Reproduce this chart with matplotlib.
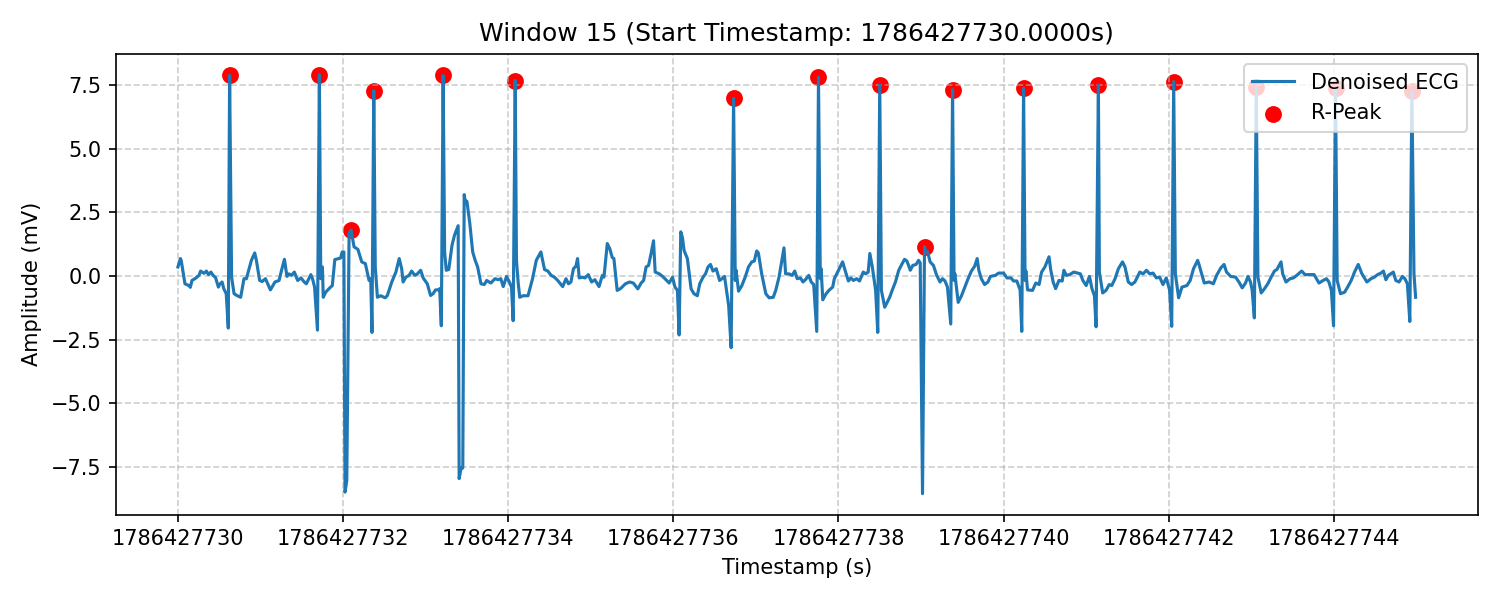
import matplotlib
matplotlib.use("Agg")
import matplotlib.pyplot as plt
import numpy as np

# window info
window_id = 15
start_ts = 1786427730.0

# denoised ECG (seconds from window start, mV)
ecg_t = [
    0.00, 0.03, 0.04, 0.085, 0.133, 0.15, 0.17, 0.21, 0.255, 0.275, 0.315, 0.345, 0.37, 0.40,
    0.425, 0.455, 0.49, 0.505, 0.535, 0.555, 0.585, 0.61, 0.626, 0.65, 0.68, 0.72, 0.76, 0.80,
    0.83, 0.855, 0.89, 0.93, 0.95, 0.99, 1.02, 1.06, 1.12, 1.175, 1.225, 1.255, 1.29, 1.32,
    1.345, 1.375, 1.41, 1.45, 1.49, 1.53, 1.555, 1.61, 1.63, 1.655, 1.69, 1.713, 1.73, 1.75,
    1.76, 1.79, 1.83, 1.87, 1.90, 1.95, 1.97, 1.99, 2.01, 2.024, 2.045, 2.073, 2.097, 2.133,
    2.18, 2.226, 2.27, 2.315, 2.335, 2.35, 2.372, 2.39, 2.416, 2.455, 2.51, 2.535, 2.59, 2.64,
    2.68, 2.71, 2.727, 2.76, 2.80, 2.83, 2.87, 2.90, 2.94, 2.97, 3.02, 3.06, 3.09, 3.12, 3.16,
    3.17, 3.19, 3.212, 3.23, 3.25, 3.28, 3.32, 3.35, 3.394, 3.406, 3.43, 3.45, 3.467, 3.48,
    3.50, 3.535, 3.57, 3.60, 3.63, 3.67, 3.71, 3.74, 3.79, 3.84, 3.88, 3.91, 3.94, 3.98, 4.02,
    4.04, 4.06, 4.085, 4.10, 4.12, 4.14, 4.18, 4.24, 4.295, 4.34, 4.396, 4.44, 4.48, 4.52,
    4.56, 4.60, 4.66, 4.70, 4.73, 4.76, 4.79, 4.82, 4.84, 4.86, 4.90, 4.93, 4.97, 5.01, 5.05,
    5.10, 5.14, 5.16, 5.20, 5.23, 5.26, 5.28, 5.32, 5.36, 5.42, 5.47, 5.515, 5.57, 5.61, 5.64,
    5.67, 5.70, 5.73, 5.76, 5.78, 5.83, 5.87, 5.91, 5.95, 5.99, 6.02, 6.05, 6.07, 6.09, 6.11,
    6.13, 6.17, 6.215, 6.25, 6.29, 6.32, 6.36, 6.39, 6.42, 6.45, 6.48, 6.52, 6.56, 6.59, 6.62,
    6.65, 6.67, 6.70, 6.73, 6.75, 6.76, 6.79, 6.83, 6.87, 6.91, 6.95, 6.98, 7.01, 7.03, 7.07,
    7.12, 7.16, 7.21, 7.24, 7.28, 7.34, 7.36, 7.40, 7.44, 7.47, 7.50, 7.54, 7.57, 7.60, 7.64,
    7.67, 7.70, 7.737, 7.758, 7.78, 7.79, 7.81, 7.85, 7.89, 7.93, 7.95, 7.99, 8.05, 8.08, 8.12,
    8.15, 8.18, 8.22, 8.255, 8.30, 8.33, 8.36, 8.38, 8.41, 8.45, 8.476, 8.50, 8.52, 8.56, 8.59,
    8.62, 8.65, 8.69, 8.73, 8.76, 8.80, 8.83, 8.87, 8.90, 8.94, 8.97, 8.99, 9.018, 9.042, 9.06,
    9.08, 9.11, 9.15, 9.19, 9.23, 9.26, 9.29, 9.32, 9.36, 9.382, 9.40, 9.41, 9.45, 9.49, 9.53,
    9.57, 9.61, 9.65, 9.68, 9.70, 9.73, 9.77, 9.81, 9.84, 9.90, 9.94, 10.00, 10.04, 10.09,
    10.12, 10.16, 10.20, 10.22, 10.242, 10.26, 10.27, 10.29, 10.35, 10.39, 10.43, 10.46, 10.50,
    10.55, 10.57, 10.60, 10.63, 10.67, 10.71, 10.73, 10.76, 10.80, 10.85, 10.93, 10.96, 11.00,
    11.04, 11.07, 11.10, 11.12, 11.148, 11.16, 11.20, 11.24, 11.28, 11.31, 11.35, 11.39, 11.44,
    11.47, 11.51, 11.55, 11.59, 11.65, 11.69, 11.73, 11.77, 11.81, 11.85, 11.89, 11.93, 11.97,
    12.01, 12.036, 12.06, 12.08, 12.12, 12.16, 12.22, 12.26, 12.30, 12.35, 12.37, 12.43, 12.49,
    12.54, 12.58, 12.63, 12.67, 12.70, 12.75, 12.81, 12.85, 12.89, 12.93, 12.96, 12.99, 13.01,
    13.037, 13.06, 13.08, 13.12, 13.16, 13.20, 13.24, 13.28, 13.31, 13.36, 13.38, 13.42, 13.47,
    13.51, 13.55, 13.61, 13.65, 13.71, 13.76, 13.82, 13.87, 13.91, 13.94, 13.97, 13.996, 14.02,
    14.04, 14.08, 14.13, 14.17, 14.21, 14.25, 14.295, 14.34, 14.40, 14.45, 14.49, 14.53, 14.57,
    14.60, 14.63, 14.66, 14.72, 14.75, 14.79, 14.83, 14.86, 14.89, 14.92, 14.945, 14.97, 14.99,
]
ecg_mv = [
    0.35, 0.68, 0.60, -0.31, -0.38, -0.45, -0.18, -0.10, 0.02, 0.19, 0.10, 0.19, 0.05, 0.15,
    0.02, -0.06, -0.44, -0.33, -0.24, -0.50, -0.70, -2.05, 7.87, -0.05, -0.70, -0.78, -0.84, -0.11,
    -0.11, 0.20, 0.61, 0.90, 0.61, -0.18, -0.22, -0.11, -0.55, -0.24, -0.18, 0.22, 0.65, -0.02,
    0.08, 0.02, 0.15, -0.18, -0.08, -0.24, -0.31, 0.05, -0.11, -0.44, -2.13, 7.89, -0.11, 0.35,
    -0.84, -0.64, -0.50, -0.38, 0.64, 0.68, 0.70, 0.94, 0.94, -8.49, -8.03, 1.67, 1.80, 1.14,
    1.04, 0.55, 0.48, -0.18, -0.11, -2.22, 7.27, 0.35, -0.84, -0.78, -0.86, -0.78, -0.24, 0.15,
    0.68, 0.28, -0.24, -0.05, 0.02, 0.19, 0.02, 0.08, 0.22, -0.08, -0.31, -0.77, -0.70, -0.55, -0.55,
    -0.50, -1.96, 7.87, 0.94, 0.22, 0.25, 1.21, 1.60, 1.97, -7.96, -7.54, -7.54, 3.19, 2.93,
    2.93, 2.06, 0.94, 0.61, 0.35, -0.31, -0.34, -0.18, -0.28, -0.11, -0.15, -0.11, -0.42, -0.02, -0.28,
    -0.44, -1.76, 7.67, 0.61, -0.24, -0.84, -0.78, -0.78, -0.11, 0.61, 0.94, 0.25, 0.19, 0.02,
    -0.05, -0.18, -0.42, -0.11, -0.31, -0.24, 0.28, 0.38, 0.68, -0.08, -0.05, -0.08, 0.05, -0.24, -0.15,
    -0.42, 0.02, -0.05, 1.27, 1.07, 0.72, 0.68, -0.57, -0.50, -0.31, -0.24, -0.28, -0.51, -0.28, -0.18,
    0.35, 0.41, 0.87, 1.38, 0.15, 0.08, -0.02, -0.15, -0.28, -0.05, -0.44, -0.57, -2.32, 1.73, 1.51,
    1.00, 0.68, -0.51, -0.70, -0.78, -0.31, -0.05, 0.08, 0.35, 0.45, 0.19, 0.28, -0.18, -0.11, -0.02,
    -0.70, -1.16, -2.82, 6.97, -0.18, 0.22, -0.60, -0.38, -0.05, 0.35, 0.55, 0.58, 0.98, 0.90, 0.08,
    -0.70, -0.86, -0.84, -0.57, -0.05, 1.10, 0.08, 0.08, 0.02, 0.19, -0.11, -0.08, -0.24, -0.15, 0.02,
    -0.24, -0.34, -2.18, 7.80, -0.11, 0.28, -0.94, -0.70, -0.55, -0.44, -0.11, 0.15, 0.55, 0.22, -0.20,
    -0.08, -0.18, -0.11, -0.20, 0.15, 0.08, 0.15, 0.88, 0.35, -0.57, -2.22, 7.50, -0.57, -1.23, -1.04,
    -0.84, -0.57, -0.24, 0.22, 0.41, 0.65, 0.58, 0.22, 0.41, 0.45, 0.61, 0.51, -8.55, 1.14, 0.94,
    0.94, 0.55, 0.41, 0.02, -0.24, -0.11, -0.20, -0.44, -1.89, 7.31, -0.18, 0.08, -1.04, -0.78, -0.44,
    -0.11, 0.19, 0.38, 0.68, 0.22, -0.11, -0.34, -0.24, -0.02, 0.02, 0.11, 0.11, -0.08, -0.08,
    -0.20, -0.20, -0.55, -2.18, 7.37, -0.18, 0.19, -0.55, -0.57, -0.28, -0.34, 0.15, 0.35,
    0.75, 0.25, -0.24, -0.50, -0.18, -0.20, 0.22, 0.02, 0.05, 0.15, 0.08, -0.18, -0.38,
    -0.02, -0.50, -0.78, -2.00, 7.50, 0.15, -0.67, -0.57, -0.34, -0.38, -0.11, 0.28, 0.55,
    0.35, -0.24, -0.34, -0.24, 0.15, 0.08, 0.22, 0.08, 0.11, -0.08, -0.05, -0.34, -0.08,
    -0.55, -1.98, 7.63, 0.08, -0.86, -0.44, -0.38, -0.18, 0.28, 0.61, 0.41, -0.28, -0.24,
    -0.31, 0.02, 0.31, 0.45, 0.15, -0.02, -0.05, -0.24, -0.47, -0.28, -0.02, -0.24, -0.55,
    -1.65, 7.41, -0.05, -0.67, -0.50, -0.31, -0.05, 0.19, 0.25, 0.55, 0.08, -0.24, -0.11,
    -0.08, 0.02, 0.19, 0.05, 0.05, 0.05, -0.28, -0.18, -0.11, -0.24, -0.57, -1.96, 7.37,
    -0.18, -0.70, -0.64, -0.42, -0.18, 0.15, 0.45, 0.08, -0.24, -0.11, -0.05, 0.05, 0.11,
    0.19, -0.15, 0.02, 0.15, -0.18, -0.24, -0.02, -0.11, -0.31, -1.79, 7.27, 0.08, -0.84,
]

# detected R-peaks
rpeak_t = [0.626, 1.713, 2.097, 2.372, 3.212, 4.085, 6.73, 7.758, 8.50, 9.042,
           9.382, 10.242, 11.148, 12.06, 13.06, 14.02, 14.945]
rpeak_mv = [7.87, 7.89, 1.80, 7.27, 7.87, 7.67, 6.97, 7.80, 7.50, 1.14,
            7.31, 7.37, 7.50, 7.63, 7.41, 7.37, 7.27]

ts = start_ts + np.array(ecg_t)
peak_ts = start_ts + np.array(rpeak_t)

fig, ax = plt.subplots(figsize=(10, 4), dpi=150)
ax.plot(ts, ecg_mv, label='Denoised ECG')
ax.scatter(peak_ts, rpeak_mv, color='red', s=50, label='R-Peak')
ax.set_title(f'Window {window_id} (Start Timestamp: {start_ts:.4f}s)')
ax.set_xlabel('Timestamp (s)')
ax.set_ylabel('Amplitude (mV)')
ax.ticklabel_format(axis='x', useOffset=False, style='plain')
ax.legend(loc='upper right')
ax.grid(True, linestyle='--', alpha=0.6)
fig.tight_layout()
fig.savefig('out.png')
